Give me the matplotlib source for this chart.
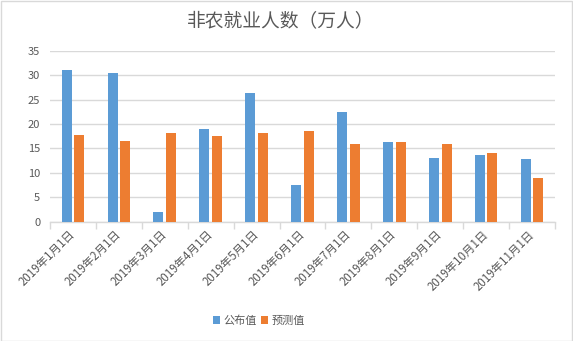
import matplotlib
matplotlib.use("Agg")
import matplotlib.pyplot as plt
from matplotlib.patches import Rectangle
import numpy as np

plt.rcParams['font.family'] = ['Noto Sans CJK SC', 'DejaVu Sans']

# data
dates = ['2019年1月1日', '2019年2月1日', '2019年3月1日', '2019年4月1日',
         '2019年5月1日', '2019年6月1日', '2019年7月1日', '2019年8月1日',
         '2019年9月1日', '2019年10月1日', '2019年11月1日']
published = [31.1, 30.5, 2.0, 19.0, 26.4, 7.5, 22.5, 16.3, 13.0, 13.7, 12.8]
forecast = [17.8, 16.5, 18.2, 17.6, 18.2, 18.6, 15.9, 16.3, 15.9, 14.1, 8.9]

#-------------------------------------------------------------------------------

blue = '#5B9BD5'
orange = '#ED7D31'
grid = '#D9D9D9'
txt = '#595959'

fig = plt.figure(figsize=(5.73, 3.41), dpi=100)
ax = fig.add_axes([50 / 573, 1 - 221.5 / 341, 505 / 573, 170.5 / 341])

x = np.arange(len(dates))
w = 0.218
ax.bar(x - 0.138, published, width=w, color=blue, label='公布值', zorder=3)
ax.bar(x + 0.138, forecast, width=w, color=orange, label='预测值', zorder=3)

ax.set_xlim(-0.5, len(dates) - 0.5)
ax.set_ylim(0, 35)
ax.set_yticks(range(0, 36, 5))
ax.yaxis.grid(True, color=grid, linewidth=1, zorder=0)

for s in ['top', 'right', 'left']:
    ax.spines[s].set_visible(False)
ax.spines['bottom'].set_color(grid)
ax.spines['bottom'].set_linewidth(1)

ax.tick_params(axis='y', length=0, labelsize=8, labelcolor=txt, pad=7)
ax.set_xticks(x)
ax.set_xticklabels(dates, rotation=45, ha='right', va='center',
                   rotation_mode='anchor', fontsize=8.3, color=txt)
ax.tick_params(axis='x', which='major', length=0, pad=8)
ax.set_xticks(np.arange(-0.5, len(dates), 1), minor=True)
ax.tick_params(axis='x', which='minor', length=5, color=grid, width=1)

fig.text(0.49, 1 - 20.5 / 341, '非农就业人数（万人）', ha='center', va='center',
         fontsize=13.5, color=txt)

fig.legend(loc='center', bbox_to_anchor=(259 / 573, 1 - 320.5 / 341), ncol=2,
           frameon=False, fontsize=8, labelcolor=txt, handlelength=0.65,
           handleheight=0.65, handletextpad=0.3, columnspacing=0.4)

# light border round the chart
fig.patches.append(Rectangle((0.5 / 573, 0.5 / 341), 571.5 / 573, 339.5 / 341,
                             transform=fig.transFigure, fill=False,
                             edgecolor=grid, linewidth=1))

fig.savefig('out.png', dpi=100, facecolor='white')
